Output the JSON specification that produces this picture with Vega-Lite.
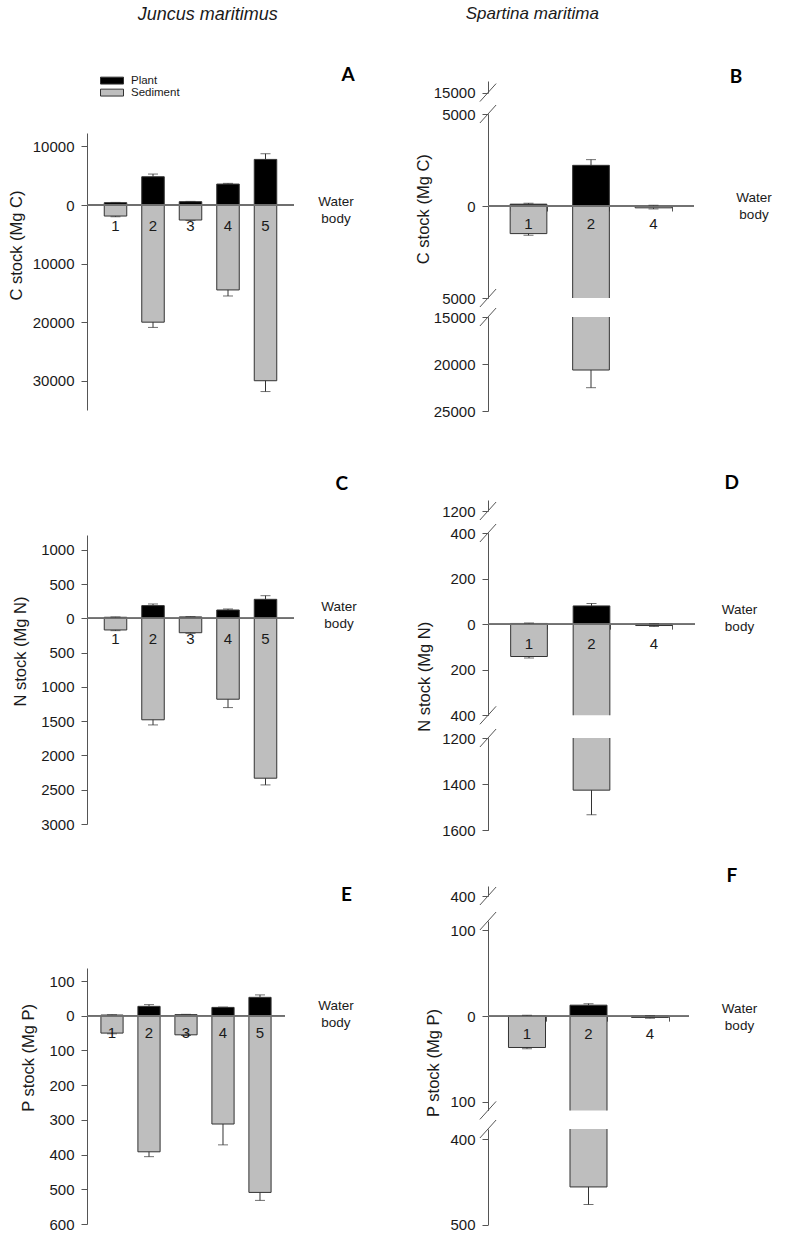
{
"$schema":"https://vega.github.io/schema/vega-lite/v6.json",
"background":"white",
"padding":{"left":8,"top":5,"right":5,"bottom":5},
"spacing":58,
"resolve":{"scale":{"color":"independent"}},
"config":{
 "view":{"stroke":null},
 "font":"Liberation Sans",
 "axis":{"grid":false,"domainColor":"#555555","domainWidth":1,"tickColor":"#555555","tickSize":6,"tickWidth":1,"labelPadding":7,"labelFont":"Liberation Sans","labelFontSize":15,"labelColor":"#1a1a1a","titleFont":"Liberation Sans","titleFontSize":16.5,"titleFontWeight":"normal","titleColor":"#1a1a1a","labelOverlap":false},
 "title":{"font":"Lato","fontSize":19,"fontWeight":"bold","anchor":"end","frame":"group","baseline":"alphabetic","color":"#000000"},
 "text":{"font":"Liberation Sans","color":"#1a1a1a"}
},
"datasets":{
 "A":[{"cat":"1","type":"Plant","value":400,"err":450},{"cat":"1","type":"Sediment","value":-1880,"err":-2000},{"cat":"2","type":"Plant","value":4830,"err":5290},{"cat":"2","type":"Sediment","value":-20000,"err":-20900},{"cat":"3","type":"Plant","value":570,"err":620},{"cat":"3","type":"Sediment","value":-2560,"err":-2650},{"cat":"4","type":"Plant","value":3580,"err":3700},{"cat":"4","type":"Sediment","value":-14500,"err":-15530},{"cat":"5","type":"Plant","value":7790,"err":8760},{"cat":"5","type":"Sediment","value":-30000,"err":-31850}],
 "B":[{"cat":"1","type":"Plant","value":100,"err":150},{"cat":"1","type":"Sediment","value":-1500,"err":-1590},{"cat":"2","type":"Plant","value":2210,"err":2520},{"cat":"2","type":"Sediment","value":-20640,"err":-22520},{"cat":"4","type":"Plant","value":20,"err":40},{"cat":"4","type":"Sediment","value":-100,"err":-160}],
 "C":[{"cat":"1","type":"Plant","value":15,"err":20},{"cat":"1","type":"Sediment","value":-170,"err":-180},{"cat":"2","type":"Plant","value":185,"err":209},{"cat":"2","type":"Sediment","value":-1480,"err":-1555},{"cat":"3","type":"Plant","value":20,"err":25},{"cat":"3","type":"Sediment","value":-210,"err":-220},{"cat":"4","type":"Plant","value":121,"err":136},{"cat":"4","type":"Sediment","value":-1180,"err":-1302},{"cat":"5","type":"Plant","value":277,"err":330},{"cat":"5","type":"Sediment","value":-2332,"err":-2430}],
 "D":[{"cat":"1","type":"Plant","value":3,"err":5},{"cat":"1","type":"Sediment","value":-142,"err":-148},{"cat":"2","type":"Plant","value":80,"err":91},{"cat":"2","type":"Sediment","value":-1426,"err":-1533},{"cat":"4","type":"Plant","value":1,"err":2},{"cat":"4","type":"Sediment","value":-6,"err":-10}],
 "E":[{"cat":"1","type":"Plant","value":2,"err":3},{"cat":"1","type":"Sediment","value":-50,"err":-52},{"cat":"2","type":"Plant","value":27,"err":32},{"cat":"2","type":"Sediment","value":-392,"err":-406},{"cat":"3","type":"Plant","value":3,"err":4},{"cat":"3","type":"Sediment","value":-55,"err":-57},{"cat":"4","type":"Plant","value":24,"err":25},{"cat":"4","type":"Sediment","value":-312,"err":-372},{"cat":"5","type":"Plant","value":53,"err":60},{"cat":"5","type":"Sediment","value":-509,"err":-532}],
 "F":[{"cat":"1","type":"Plant","value":0.5,"err":1},{"cat":"1","type":"Sediment","value":-36.6,"err":-38},{"cat":"2","type":"Plant","value":12.8,"err":14.5},{"cat":"2","type":"Sediment","value":-456,"err":-476.6},{"cat":"4","type":"Plant","value":0.3,"err":0.5},{"cat":"4","type":"Sediment","value":-1.5,"err":-2.5}]
},
"hconcat":[
 {"bounds":"flush","spacing":0,"vconcat":[
  {"width":207,"height":105,
   "title":{"text":"Juncus maritimus","font":"Liberation Sans","fontSize":18,"fontStyle":"italic","fontWeight":"normal","anchor":"start","dx":50.7,"offset":4,"color":"#1a1a1a"},
   "data":{"values":[{"type":"Plant"},{"type":"Sediment"}]},
   "mark":{"type":"point","filled":true,"size":0,"opacity":1},
   "encoding":{"color":{"field":"type","type":"nominal","scale":{"domain":["Plant","Sediment"],"range":["#000000","#bebebe"]},
     "legend":{"title":null,"orient":"none","legendX":13,"legendY":48.1,"direction":"vertical","symbolType":"M-1,-0.3L1,-0.3L1,0.3L-1,0.3Z","symbolSize":529,"symbolStrokeColor":"#333333","symbolStrokeWidth":1,"labelFont":"Liberation Sans","labelFontSize":11.5,"labelColor":"#1a1a1a","clipHeight":9,"rowPadding":0,"labelOffset":7,"padding":0}}}},
  {"width":207,"height":277,"title":{"text":"A","dx":60.7,"offset":48},"data":{"name":"A"},
   "layer":[
    {"mark":{"type":"bar","stroke":"#333333","strokeWidth":1,"clip":true},"encoding":{"x":{"field":"cat","type":"nominal","scale":{"paddingInner":0.4,"paddingOuter":0.46},"axis":null},"y":{"field":"value","type":"quantitative","scale":{"domain":[-35000,12300],"nice":false,"zero":false},"axis":{"values":[-30000,-20000,-10000,0,10000],"tickCount":20,"labelExpr":"format(abs(datum.value),'d')","labelOverlap":false,"title":"C stock (Mg C)","titleY":112,"titlePadding":7.8}},"y2":{"datum":0},"color":{"field":"type","type":"nominal","scale":{"domain":["Plant","Sediment"],"range":["#000000","#bebebe"]},"legend":null}}},
    {"mark":{"type":"rule","color":"#707070","strokeWidth":1},"encoding":{"y":{"datum":0,"type":"quantitative"}}},
    {"mark":{"type":"rule","color":"#333333","strokeWidth":1,"clip":true},"encoding":{"x":{"field":"cat","type":"nominal"},"y":{"field":"value","type":"quantitative"},"y2":{"field":"err"}}},
    {"mark":{"type":"tick","color":"#333333","thickness":1,"size":10,"clip":true},"encoding":{"x":{"field":"cat","type":"nominal"},"y":{"field":"err","type":"quantitative"}}},
    {"transform":[{"filter":{"field":"type","equal":"Plant"}}],"mark":{"type":"text","fontSize":15,"dy":21},"encoding":{"x":{"field":"cat","type":"nominal"},"y":{"datum":0,"type":"quantitative"},"text":{"field":"cat","type":"nominal"}}},
    {"transform":[{"filter":{"field":"cat","equal":"5"}},{"filter":{"field":"type","equal":"Plant"}}],"mark":{"type":"text","text":["Water","body"],"fontSize":13.5,"lineHeight":17,"dx":70.5,"dy":-3.3},"encoding":{"x":{"field":"cat","type":"nominal"},"y":{"datum":0,"type":"quantitative"}}}
   ]},
  {"width":10,"height":125,"data":{"values":[]},"mark":{"type":"point","opacity":0}},
  {"width":207,"height":289,"title":{"text":"C","dx":54,"offset":41},"data":{"name":"C"},
   "layer":[
    {"mark":{"type":"bar","stroke":"#333333","strokeWidth":1,"clip":true},"encoding":{"x":{"field":"cat","type":"nominal","scale":{"paddingInner":0.4,"paddingOuter":0.46},"axis":null},"y":{"field":"value","type":"quantitative","scale":{"domain":[-3000,1215],"nice":false,"zero":false},"axis":{"values":[-3000,-2500,-2000,-1500,-1000,-500,0,500,1000],"tickCount":20,"labelExpr":"format(abs(datum.value),'d')","labelOverlap":false,"title":"N stock (Mg N)","titleY":116,"titlePadding":12.1}},"y2":{"datum":0},"color":{"field":"type","type":"nominal","scale":{"domain":["Plant","Sediment"],"range":["#000000","#bebebe"]},"legend":null}}},
    {"mark":{"type":"rule","color":"#707070","strokeWidth":1},"encoding":{"y":{"datum":0,"type":"quantitative"}}},
    {"mark":{"type":"rule","color":"#333333","strokeWidth":1,"clip":true},"encoding":{"x":{"field":"cat","type":"nominal"},"y":{"field":"value","type":"quantitative"},"y2":{"field":"err"}}},
    {"mark":{"type":"tick","color":"#333333","thickness":1,"size":10,"clip":true},"encoding":{"x":{"field":"cat","type":"nominal"},"y":{"field":"err","type":"quantitative"}}},
    {"transform":[{"filter":{"field":"type","equal":"Plant"}}],"mark":{"type":"text","fontSize":15,"dy":21},"encoding":{"x":{"field":"cat","type":"nominal"},"y":{"datum":0,"type":"quantitative"},"text":{"field":"cat","type":"nominal"}}},
    {"transform":[{"filter":{"field":"cat","equal":"5"}},{"filter":{"field":"type","equal":"Plant"}}],"mark":{"type":"text","text":["Water","body"],"fontSize":13.5,"lineHeight":17,"dx":73.5,"dy":-11.6},"encoding":{"x":{"field":"cat","type":"nominal"},"y":{"datum":0,"type":"quantitative"}}}
   ]},
  {"width":10,"height":143.3,"data":{"values":[]},"mark":{"type":"point","opacity":0}},
  {"width":198,"height":256,"title":{"text":"E","dx":67,"offset":62.9},"data":{"name":"E"},
   "layer":[
    {"mark":{"type":"bar","stroke":"#333333","strokeWidth":1,"clip":true},"encoding":{"x":{"field":"cat","type":"nominal","scale":{"paddingInner":0.4,"paddingOuter":0.376},"axis":null},"y":{"field":"value","type":"quantitative","scale":{"domain":[-600,137.5],"nice":false,"zero":false},"axis":{"values":[-600,-500,-400,-300,-200,-100,0,100],"tickCount":20,"labelExpr":"format(abs(datum.value),'d')","labelOverlap":false,"title":"P stock (Mg P)","titleY":89.4,"titlePadding":12.5}},"y2":{"datum":0},"color":{"field":"type","type":"nominal","scale":{"domain":["Plant","Sediment"],"range":["#000000","#bebebe"]},"legend":null}}},
    {"mark":{"type":"rule","color":"#707070","strokeWidth":1},"encoding":{"y":{"datum":0,"type":"quantitative"}}},
    {"mark":{"type":"rule","color":"#333333","strokeWidth":1,"clip":true},"encoding":{"x":{"field":"cat","type":"nominal"},"y":{"field":"value","type":"quantitative"},"y2":{"field":"err"}}},
    {"mark":{"type":"tick","color":"#333333","thickness":1,"size":10,"clip":true},"encoding":{"x":{"field":"cat","type":"nominal"},"y":{"field":"err","type":"quantitative"}}},
    {"transform":[{"filter":{"field":"type","equal":"Plant"}}],"mark":{"type":"text","fontSize":15,"dy":17},"encoding":{"x":{"field":"cat","type":"nominal"},"y":{"datum":0,"type":"quantitative"},"text":{"field":"cat","type":"nominal"}}},
    {"transform":[{"filter":{"field":"cat","equal":"5"}},{"filter":{"field":"type","equal":"Plant"}}],"mark":{"type":"text","text":["Water","body"],"fontSize":13.5,"lineHeight":17,"dx":76,"dy":-9.3},"encoding":{"x":{"field":"cat","type":"nominal"},"y":{"datum":0,"type":"quantitative"}}}
   ]}
 ]},
 {"bounds":"flush","spacing":0,"vconcat":[
  {"width":206,"height":52.4,
   "title":{"text":"Spartina maritima","font":"Liberation Sans","fontSize":17,"fontStyle":"italic","fontWeight":"normal","anchor":"start","dx":-22.3,"offset":5,"color":"#1a1a1a"},
   "data":{"values":[]},"mark":{"type":"point","opacity":0}},
  {"width":206,"height":11.6,"title":{"text":"B","dx":48.3,"offset":-6.3},
   "data":{"values":[{"v":15000}]},
   "mark":{"type":"point","shape":"M-0.9,1L0.9,-1","size":324,"filled":false,"color":"#555555","strokeWidth":1,"opacity":1},
   "encoding":{"x":{"datum":0,"type":"quantitative","scale":{"domain":[0,1]},"axis":null},"y":{"field":"v","type":"quantitative","scale":{"domain":[15000,16500],"nice":false,"zero":false},"axis":{"values":[15000],"tickCount":20,"labelExpr":"format(abs(datum.value),'d')","labelOverlap":false,"title":null}}}},
  {"width":10,"height":21,"data":{"values":[]},"mark":{"type":"point","opacity":0}},
  {"width":206,"height":184,"data":{"name":"B"},"resolve":{"scale":{"x":"independent"}},
   "layer":[
    {"layer":[
     {"mark":{"type":"bar","stroke":"#333333","strokeWidth":1,"clip":true},"encoding":{"x":{"field":"cat","type":"nominal","scale":{"paddingInner":0.413,"paddingOuter":0.3545},"axis":{"orient":"bottom","offset":-92,"domain":false,"labels":false,"ticks":true,"tickBand":"extent","tickSize":5,"tickColor":"#555555","title":null}},"y":{"field":"value","type":"quantitative","scale":{"domain":[-5000,5000],"nice":false,"zero":false},"axis":{"values":[-5000,0,5000],"tickCount":20,"labelExpr":"format(abs(datum.value),'d')","labelOverlap":false,"title":"C stock (Mg C)","titleY":94.7,"titlePadding":10.6}},"y2":{"datum":0},"color":{"field":"type","type":"nominal","scale":{"domain":["Plant","Sediment"],"range":["#000000","#bebebe"]},"legend":null}}},
     {"mark":{"type":"rule","color":"#707070","strokeWidth":1},"encoding":{"y":{"datum":0,"type":"quantitative"}}},
     {"mark":{"type":"rule","color":"#333333","strokeWidth":1,"clip":true},"encoding":{"x":{"field":"cat","type":"nominal"},"y":{"field":"value","type":"quantitative"},"y2":{"field":"err"}}},
     {"mark":{"type":"tick","color":"#333333","thickness":1,"size":10,"clip":true},"encoding":{"x":{"field":"cat","type":"nominal"},"y":{"field":"err","type":"quantitative"}}},
     {"transform":[{"filter":{"field":"type","equal":"Plant"}}],"mark":{"type":"text","fontSize":15,"dy":17.6},"encoding":{"x":{"field":"cat","type":"nominal"},"y":{"datum":0,"type":"quantitative"},"text":{"field":"cat","type":"nominal"}}},
     {"transform":[{"filter":{"field":"cat","equal":"4"}},{"filter":{"field":"type","equal":"Plant"}}],"mark":{"type":"text","text":["Water","body"],"fontSize":13.5,"lineHeight":17,"dx":100.5,"dy":-8.2},"encoding":{"x":{"field":"cat","type":"nominal"},"y":{"datum":0,"type":"quantitative"}}}
    ]},
    {"data":{"values":[{"v":5000},{"v":-5000}]},"mark":{"type":"point","shape":"M-0.9,1L0.9,-1","size":324,"filled":false,"color":"#555555","strokeWidth":1,"opacity":1},"encoding":{"x":{"datum":0,"type":"quantitative","scale":{"domain":[0,1]},"axis":null},"y":{"field":"v","type":"quantitative"}}}
   ]},
  {"width":10,"height":18.4,"data":{"values":[]},"mark":{"type":"point","opacity":0}},
  {"width":206,"height":94,"data":{"name":"B"},"resolve":{"scale":{"x":"independent"}},
   "layer":[
    {"layer":[
     {"mark":{"type":"bar","stroke":"#333333","strokeWidth":1,"clip":true},"encoding":{"x":{"field":"cat","type":"nominal","scale":{"paddingInner":0.413,"paddingOuter":0.3545},"axis":null},"y":{"field":"value","type":"quantitative","scale":{"domain":[-25000,-15000],"nice":false,"zero":false},"axis":{"values":[-25000,-20000,-15000],"tickCount":20,"labelExpr":"format(abs(datum.value),'d')","labelOverlap":false,"title":null}},"y2":{"datum":0},"color":{"field":"type","type":"nominal","scale":{"domain":["Plant","Sediment"],"range":["#000000","#bebebe"]},"legend":null}}},
     {"mark":{"type":"rule","color":"#333333","strokeWidth":1,"clip":true},"encoding":{"x":{"field":"cat","type":"nominal"},"y":{"field":"value","type":"quantitative"},"y2":{"field":"err"}}},
     {"mark":{"type":"tick","color":"#333333","thickness":1,"size":10,"clip":true},"encoding":{"x":{"field":"cat","type":"nominal"},"y":{"field":"err","type":"quantitative"}}}
    ]},
    {"data":{"values":[{"v":-15000}]},"mark":{"type":"point","shape":"M-0.9,1L0.9,-1","size":324,"filled":false,"color":"#555555","strokeWidth":1,"opacity":1},"encoding":{"x":{"datum":0,"type":"quantitative","scale":{"domain":[0,1]},"axis":null},"y":{"field":"v","type":"quantitative"}}}
   ]},
  {"width":10,"height":88.3,"data":{"values":[]},"mark":{"type":"point","opacity":0}},
  {"width":207,"height":11,"title":{"text":"D","dx":44,"offset":7},
   "data":{"values":[{"v":1200}]},
   "mark":{"type":"point","shape":"M-0.9,1L0.9,-1","size":324,"filled":false,"color":"#555555","strokeWidth":1,"opacity":1},
   "encoding":{"x":{"datum":0,"type":"quantitative","scale":{"domain":[0,1]},"axis":null},"y":{"field":"v","type":"quantitative","scale":{"domain":[1200,1260],"nice":false,"zero":false},"axis":{"values":[1200],"tickCount":20,"labelExpr":"format(abs(datum.value),'d')","labelOverlap":false,"title":null}}}},
  {"width":10,"height":21.7,"data":{"values":[]},"mark":{"type":"point","opacity":0}},
  {"width":207,"height":182.3,"data":{"name":"D"},"resolve":{"scale":{"x":"independent"}},
   "layer":[
    {"layer":[
     {"mark":{"type":"bar","stroke":"#333333","strokeWidth":1,"clip":true},"encoding":{"x":{"field":"cat","type":"nominal","scale":{"paddingInner":0.413,"paddingOuter":0.3625},"axis":{"orient":"bottom","offset":-91.15,"domain":false,"labels":false,"ticks":true,"tickBand":"extent","tickSize":5,"tickColor":"#555555","title":null}},"y":{"field":"value","type":"quantitative","scale":{"domain":[-400,400],"nice":false,"zero":false},"axis":{"values":[-400,-200,0,200,400],"tickCount":20,"labelExpr":"format(abs(datum.value),'d')","labelOverlap":false,"title":"N stock (Mg N)","titleY":143.3,"titlePadding":17}},"y2":{"datum":0},"color":{"field":"type","type":"nominal","scale":{"domain":["Plant","Sediment"],"range":["#000000","#bebebe"]},"legend":null}}},
     {"mark":{"type":"rule","color":"#707070","strokeWidth":1},"encoding":{"y":{"datum":0,"type":"quantitative"}}},
     {"mark":{"type":"rule","color":"#333333","strokeWidth":1,"clip":true},"encoding":{"x":{"field":"cat","type":"nominal"},"y":{"field":"value","type":"quantitative"},"y2":{"field":"err"}}},
     {"mark":{"type":"tick","color":"#333333","thickness":1,"size":10,"clip":true},"encoding":{"x":{"field":"cat","type":"nominal"},"y":{"field":"err","type":"quantitative"}}},
     {"transform":[{"filter":{"field":"type","equal":"Plant"}}],"mark":{"type":"text","fontSize":15,"dy":19.6},"encoding":{"x":{"field":"cat","type":"nominal"},"y":{"datum":0,"type":"quantitative"},"text":{"field":"cat","type":"nominal"}}},
     {"transform":[{"filter":{"field":"cat","equal":"4"}},{"filter":{"field":"type","equal":"Plant"}}],"mark":{"type":"text","text":["Water","body"],"fontSize":13.5,"lineHeight":17,"dx":85.5,"dy":-13.7},"encoding":{"x":{"field":"cat","type":"nominal"},"y":{"datum":0,"type":"quantitative"}}}
    ]},
    {"data":{"values":[{"v":400},{"v":-400}]},"mark":{"type":"point","shape":"M-0.9,1L0.9,-1","size":324,"filled":false,"color":"#555555","strokeWidth":1,"opacity":1},"encoding":{"x":{"datum":0,"type":"quantitative","scale":{"domain":[0,1]},"axis":null},"y":{"field":"v","type":"quantitative"}}}
   ]},
  {"width":10,"height":21.7,"data":{"values":[]},"mark":{"type":"point","opacity":0}},
  {"width":207,"height":92.3,"data":{"name":"D"},"resolve":{"scale":{"x":"independent"}},
   "layer":[
    {"layer":[
     {"mark":{"type":"bar","stroke":"#333333","strokeWidth":1,"clip":true},"encoding":{"x":{"field":"cat","type":"nominal","scale":{"paddingInner":0.413,"paddingOuter":0.3625},"axis":null},"y":{"field":"value","type":"quantitative","scale":{"domain":[-1600,-1200],"nice":false,"zero":false},"axis":{"values":[-1600,-1400,-1200],"tickCount":20,"labelExpr":"format(abs(datum.value),'d')","labelOverlap":false,"title":null}},"y2":{"datum":0},"color":{"field":"type","type":"nominal","scale":{"domain":["Plant","Sediment"],"range":["#000000","#bebebe"]},"legend":null}}},
     {"mark":{"type":"rule","color":"#333333","strokeWidth":1,"clip":true},"encoding":{"x":{"field":"cat","type":"nominal"},"y":{"field":"value","type":"quantitative"},"y2":{"field":"err"}}},
     {"mark":{"type":"tick","color":"#333333","thickness":1,"size":10,"clip":true},"encoding":{"x":{"field":"cat","type":"nominal"},"y":{"field":"err","type":"quantitative"}}}
    ]},
    {"data":{"values":[{"v":-1200}]},"mark":{"type":"point","shape":"M-0.9,1L0.9,-1","size":324,"filled":false,"color":"#555555","strokeWidth":1,"opacity":1},"encoding":{"x":{"datum":0,"type":"quantitative","scale":{"domain":[0,1]},"axis":null},"y":{"field":"v","type":"quantitative"}}}
   ]},
  {"width":10,"height":54.6,"data":{"values":[]},"mark":{"type":"point","opacity":0}},
  {"width":201,"height":10,"title":{"text":"F","dx":48.3,"offset":-0.7},
   "data":{"values":[{"v":400}]},
   "mark":{"type":"point","shape":"M-0.9,1L0.9,-1","size":324,"filled":false,"color":"#555555","strokeWidth":1,"opacity":1},
   "encoding":{"x":{"datum":0,"type":"quantitative","scale":{"domain":[0,1]},"axis":null},"y":{"field":"v","type":"quantitative","scale":{"domain":[400,412],"nice":false,"zero":false},"axis":{"values":[400],"tickCount":20,"labelExpr":"format(abs(datum.value),'d')","labelOverlap":false,"title":null}}}},
  {"width":10,"height":24.2,"data":{"values":[]},"mark":{"type":"point","opacity":0}},
  {"width":201,"height":189.4,"data":{"name":"F"},"resolve":{"scale":{"x":"independent"}},
   "layer":[
    {"layer":[
     {"mark":{"type":"bar","stroke":"#333333","strokeWidth":1,"clip":true},"encoding":{"x":{"field":"cat","type":"nominal","scale":{"paddingInner":0.398,"paddingOuter":0.333},"axis":{"orient":"bottom","offset":-94.27,"domain":false,"labels":false,"ticks":true,"tickBand":"extent","tickSize":5,"tickColor":"#555555","title":null}},"y":{"field":"value","type":"quantitative","scale":{"domain":[-110,111],"nice":false,"zero":false},"axis":{"values":[-100,0,100],"tickCount":20,"labelExpr":"format(abs(datum.value),'d')","labelOverlap":false,"title":"P stock (Mg P)","titleY":141.5,"titlePadding":8}},"y2":{"datum":0},"color":{"field":"type","type":"nominal","scale":{"domain":["Plant","Sediment"],"range":["#000000","#bebebe"]},"legend":null}}},
     {"mark":{"type":"rule","color":"#707070","strokeWidth":1},"encoding":{"y":{"datum":0,"type":"quantitative"}}},
     {"mark":{"type":"rule","color":"#333333","strokeWidth":1,"clip":true},"encoding":{"x":{"field":"cat","type":"nominal"},"y":{"field":"value","type":"quantitative"},"y2":{"field":"err"}}},
     {"mark":{"type":"tick","color":"#333333","thickness":1,"size":10,"clip":true},"encoding":{"x":{"field":"cat","type":"nominal"},"y":{"field":"err","type":"quantitative"}}},
     {"transform":[{"filter":{"field":"type","equal":"Plant"}}],"mark":{"type":"text","fontSize":15,"dy":18},"encoding":{"x":{"field":"cat","type":"nominal"},"y":{"datum":0,"type":"quantitative"},"text":{"field":"cat","type":"nominal"}}},
     {"transform":[{"filter":{"field":"cat","equal":"4"}},{"filter":{"field":"type","equal":"Plant"}}],"mark":{"type":"text","text":["Water","body"],"fontSize":13.5,"lineHeight":17,"dx":89.5,"dy":-7},"encoding":{"x":{"field":"cat","type":"nominal"},"y":{"datum":0,"type":"quantitative"}}}
    ]},
    {"data":{"values":[{"v":111},{"v":-110}]},"mark":{"type":"point","shape":"M-0.9,1L0.9,-1","size":324,"filled":false,"color":"#555555","strokeWidth":1,"opacity":1},"encoding":{"x":{"datum":0,"type":"quantitative","scale":{"domain":[0,1]},"axis":null},"y":{"field":"v","type":"quantitative"}}}
   ]},
  {"width":10,"height":18,"data":{"values":[]},"mark":{"type":"point","opacity":0}},
  {"width":201,"height":95.6,"data":{"name":"F"},"resolve":{"scale":{"x":"independent"}},
   "layer":[
    {"layer":[
     {"mark":{"type":"bar","stroke":"#333333","strokeWidth":1,"clip":true},"encoding":{"x":{"field":"cat","type":"nominal","scale":{"paddingInner":0.398,"paddingOuter":0.333},"axis":null},"y":{"field":"value","type":"quantitative","scale":{"domain":[-500,-388.3],"nice":false,"zero":false},"axis":{"values":[-500,-400],"tickCount":20,"labelExpr":"format(abs(datum.value),'d')","labelOverlap":false,"title":null}},"y2":{"datum":0},"color":{"field":"type","type":"nominal","scale":{"domain":["Plant","Sediment"],"range":["#000000","#bebebe"]},"legend":null}}},
     {"mark":{"type":"rule","color":"#333333","strokeWidth":1,"clip":true},"encoding":{"x":{"field":"cat","type":"nominal"},"y":{"field":"value","type":"quantitative"},"y2":{"field":"err"}}},
     {"mark":{"type":"tick","color":"#333333","thickness":1,"size":10,"clip":true},"encoding":{"x":{"field":"cat","type":"nominal"},"y":{"field":"err","type":"quantitative"}}}
    ]},
    {"data":{"values":[{"v":-388.3}]},"mark":{"type":"point","shape":"M-0.9,1L0.9,-1","size":324,"filled":false,"color":"#555555","strokeWidth":1,"opacity":1},"encoding":{"x":{"datum":0,"type":"quantitative","scale":{"domain":[0,1]},"axis":null},"y":{"field":"v","type":"quantitative"}}}
   ]}
 ]}
]
}
